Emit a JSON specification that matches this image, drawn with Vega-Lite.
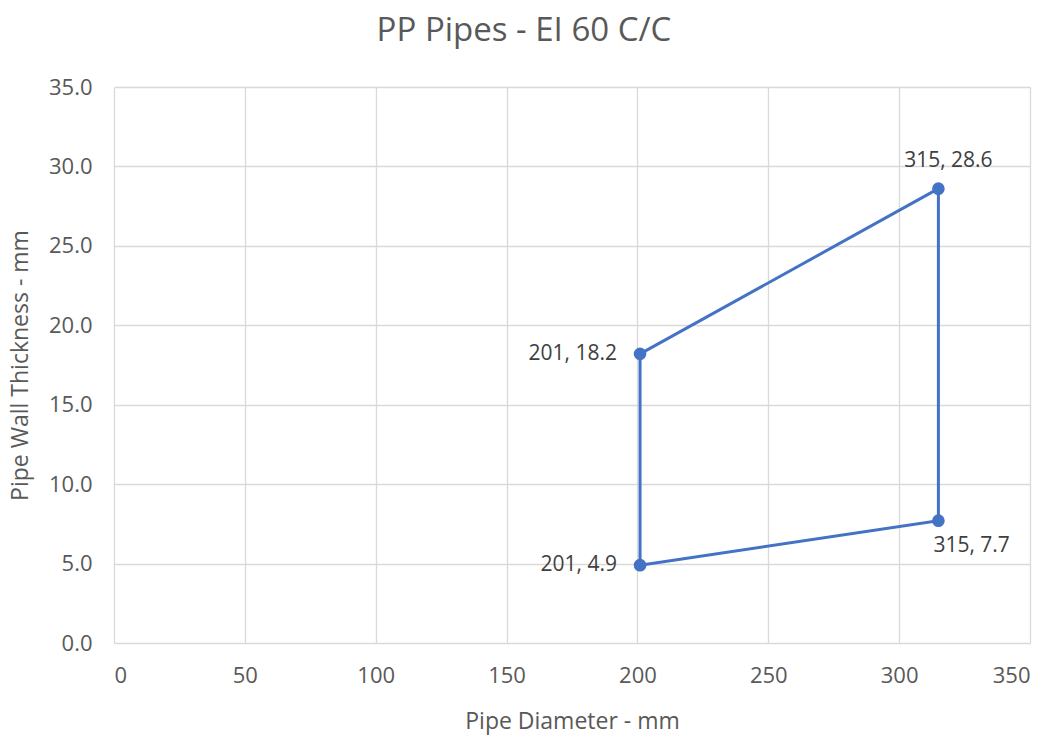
{
  "$schema": "https://vega.github.io/schema/vega-lite/v6.json",
  "width": 916,
  "height": 556,
  "autosize": "none",
  "padding": {"left": 114, "top": 87, "right": 20, "bottom": 97},
  "background": "white",
  "title": {"text": "PP Pipes - EI 60 C/C", "fontSize": 33, "font": "Open Sans", "fontWeight": "normal", "color": "#595959", "offset": 28, "dx": -48, "anchor": "middle"},
  "config": {"view": {"stroke": null}, "font": "Open Sans"},
  "data": {"values": [
    {"order": 1, "d": 201, "t": 18.2, "label": "201, 18.2", "pos": "left"},
    {"order": 2, "d": 315, "t": 28.6, "label": "315, 28.6", "pos": "top"},
    {"order": 3, "d": 315, "t": 7.7, "label": "315, 7.7", "pos": "bottom"},
    {"order": 4, "d": 201, "t": 4.9, "label": "201, 4.9", "pos": "left"},
    {"order": 5, "d": 201, "t": 18.2, "label": "", "pos": "none"}
  ]},
  "encoding": {
    "x": {"field": "d", "type": "quantitative", "scale": {"domain": [0, 350], "nice": false},
      "axis": {"values": [0, 50, 100, 150, 200, 250, 300, 350], "title": "Pipe Diameter - mm", "titleFontSize": 23, "titleFontWeight": "normal", "titleColor": "#595959", "titlePadding": 24, "labelFontSize": 22, "labelColor": "#595959", "labelPadding": 22, "ticks": false, "domain": false, "gridColor": "#D9D9D9", "gridWidth": 1.3}},
    "y": {"field": "t", "type": "quantitative", "scale": {"domain": [0, 35], "nice": false},
      "axis": {"values": [0, 5, 10, 15, 20, 25, 30, 35], "format": ".1f", "title": "Pipe Wall Thickness - mm", "titleFontSize": 23, "titleFontWeight": "normal", "titleColor": "#595959", "titlePadding": 16, "labelFontSize": 22, "labelColor": "#595959", "labelPadding": 22, "ticks": false, "domain": false, "gridColor": "#D9D9D9", "gridWidth": 1.3}}
  },
  "layer": [
    {"mark": {"type": "line", "color": "#4472C4", "strokeWidth": 3}, "encoding": {"order": {"field": "order"}}},
    {"transform": [{"filter": "datum.order < 5"}], "mark": {"type": "point", "filled": true, "color": "#4472C4", "size": 160, "opacity": 1}},
    {"transform": [{"filter": "datum.pos == 'left'"}], "mark": {"type": "text", "align": "right", "baseline": "middle", "dx": -23, "fontSize": 21, "color": "#404040"}, "encoding": {"text": {"field": "label"}}},
    {"transform": [{"filter": "datum.pos == 'top'"}], "mark": {"type": "text", "align": "center", "baseline": "bottom", "dy": -18, "dx": 10, "fontSize": 21, "color": "#404040"}, "encoding": {"text": {"field": "label"}}},
    {"transform": [{"filter": "datum.pos == 'bottom'"}], "mark": {"type": "text", "align": "left", "baseline": "top", "dy": 14, "dx": -5, "fontSize": 21, "color": "#404040"}, "encoding": {"text": {"field": "label"}}}
  ]
}
